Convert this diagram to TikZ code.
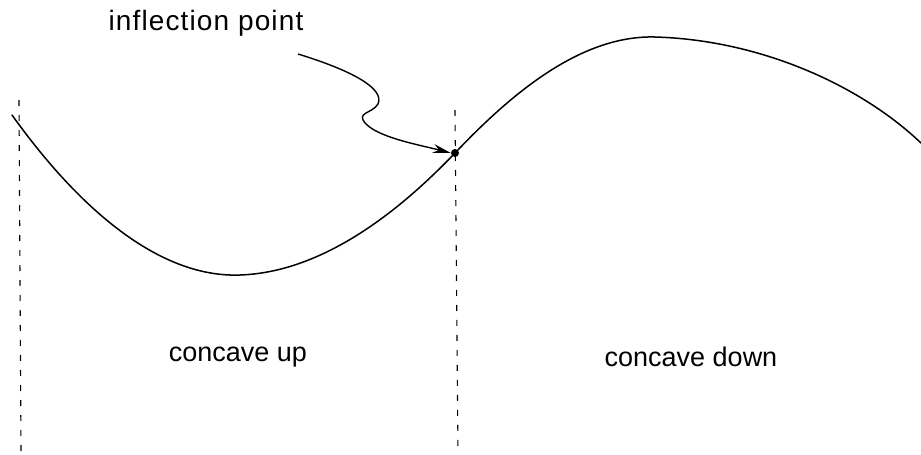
\documentclass[tikz,border=0pt]{standalone}
\usepackage{fontspec}
\setmainfont{Liberation Sans}
\usetikzlibrary{arrows.meta}
\begin{document}
\begin{tikzpicture}[x=1pt,y=-1pt,
  curveline/.style={line width=1.5pt, line cap=round},
  guide/.style={line width=1.1pt, dash pattern=on 6pt off 9pt},
  label/.style={font=\fontsize{27}{30}\selectfont, inner sep=0pt}]
\useasboundingbox (0,0) rectangle (921,455);
% guides
\coordinate (gl1) at (19,100);
\coordinate (gl2) at (21,452);
\coordinate (gm1) at (455,110);
\coordinate (gm2) at (458,452);
\draw[guide] (gl1) -- (gl2);
\draw[guide] (gm1) -- (gm2);
% curve
\coordinate (c0) at (12,115);
\coordinate (cmin) at (240,275);
\node[circle, fill=black, inner sep=0pt, minimum size=8pt] (ip) at (455,153) {};
\coordinate (cmax) at (655,37);
\coordinate (c4) at (921,143);
\draw[curveline] (c0) .. controls (80,210) and (160,278) .. (cmin)
  .. controls (330,272) and (410,200) .. (ip.center)
  .. controls (510,95) and (580,35) .. (cmax)
  .. controls (760,40) and (860,85) .. (c4);
% arrow
\coordinate (a0) at (298,54);
\draw[line width=1.4pt, -{Stealth[length=18pt,width=9pt]}] (a0)
  .. controls (350,70) and (385,88) .. (378,104)
  .. controls (372,114) and (355,112) .. (366,124)
  .. controls (380,138) and (420,145) .. (ip.west);
% labels
\node[label, font=\fontsize{28}{30}\selectfont\addfontfeatures{LetterSpace=4}] (tip) at (206,23) {inflection point};
\node[label] (tup) at (238,357) {concave up};
\node[label] (tdown) at (691,357) {concave down};
\end{tikzpicture}
\end{document}
